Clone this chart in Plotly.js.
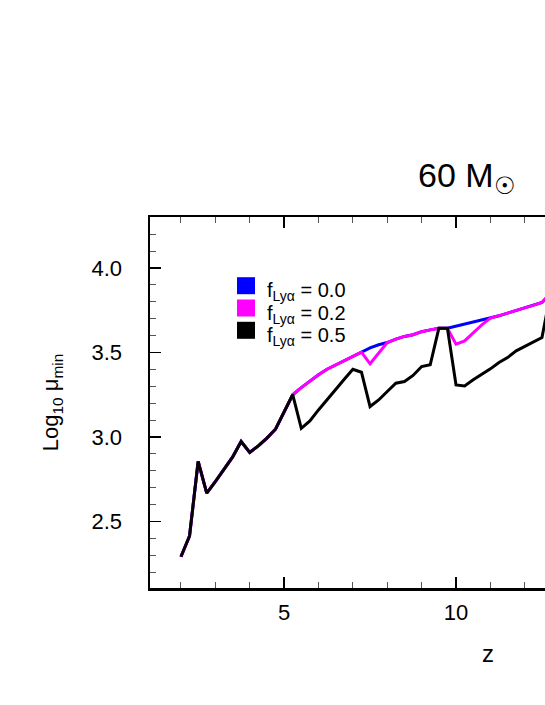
<!DOCTYPE html>
<html>
<head>
<meta charset="utf-8">
<script src="https://cdn.plot.ly/plotly-3.0.1.min.js"></script>
<style>
html, body { margin: 0; padding: 0; overflow: hidden; background: #fff; }
#chart { width: 846px; height: 705px; }
</style>
</head>
<body>
<div id="chart"></div>
<script>
// Redshift grid
var z = [2.0, 2.25, 2.5, 2.75, 3.0, 3.25, 3.5, 3.75, 4.0, 4.25, 4.5, 4.75,
         5.0, 5.25, 5.5, 5.75, 6.0, 6.25, 6.5, 6.75, 7.0, 7.25, 7.5, 7.75,
         8.0, 8.25, 8.5, 8.75, 9.0, 9.25, 9.5, 9.75, 10.0, 10.25, 10.5, 10.75,
         11.0, 11.25, 11.5, 11.75, 12.0, 12.25, 12.5, 12.75];

// Log10 mu_min for f_Lya = 0.0 (blue)
var logMuF00 = [2.291, 2.414, 2.855, 2.667, 2.736, 2.809, 2.880, 2.973, 2.908, 2.947, 2.993, 3.046,
                3.150, 3.250, 3.292, 3.332, 3.368, 3.401, 3.427, 3.453, 3.476, 3.502, 3.527, 3.546,
                3.559, 3.579, 3.595, 3.605, 3.623, 3.634, 3.643, 3.643, 3.655, 3.668, 3.681, 3.693,
                3.704, 3.717, 3.733, 3.749, 3.763, 3.779, 3.796, 3.852];

// Log10 mu_min for f_Lya = 0.2 (magenta)
var logMuF02 = [2.291, 2.414, 2.855, 2.667, 2.736, 2.809, 2.880, 2.973, 2.908, 2.947, 2.993, 3.046,
                3.150, 3.250, 3.292, 3.332, 3.368, 3.401, 3.427, 3.453, 3.476, 3.502, 3.433, 3.496,
                3.559, 3.579, 3.595, 3.605, 3.623, 3.634, 3.643, 3.643, 3.549, 3.569, 3.619, 3.664,
                3.704, 3.717, 3.733, 3.749, 3.763, 3.779, 3.796, 3.852];

// Log10 mu_min for f_Lya = 0.5 (black)
var logMuF05 = [2.291, 2.414, 2.855, 2.667, 2.736, 2.809, 2.880, 2.973, 2.908, 2.947, 2.993, 3.046,
                3.150, 3.250, 3.051, 3.095, 3.160, 3.223, 3.283, 3.342, 3.401, 3.383, 3.180, 3.219,
                3.269, 3.318, 3.328, 3.364, 3.417, 3.427, 3.643, 3.643, 3.308, 3.302, 3.338, 3.368,
                3.403, 3.441, 3.470, 3.510, 3.536, 3.561, 3.589, 3.852];

var seriesLabels = ["f<sub>Lyα</sub> = 0.0", "f<sub>Lyα</sub> = 0.2", "f<sub>Lyα</sub> = 0.5"];
var seriesColors = ["#0000ff", "#ff00ff", "#000000"];
var seriesValues = [logMuF00, logMuF02, logMuF05];

// tick labels visible in the (cropped) reference
var xTickVals = [5, 10];
var yTickVals = [2.5, 3.0, 3.5, 4.0];

var FONT = "Liberation Sans, Arial, Helvetica, sans-serif";

// plot area geometry (pixels) used to place the hand-made legend
var W = 846, H = 705, ML = 150, MR = 20, MT = 217, MB = 117;
var PW = W - ML - MR, PH = H - MT - MB;
function px(xp) { return (xp - ML) / PW; }
function py(yp) { return 1 - (yp - MT) / PH; }

var traces = [];
for (var i = 0; i < 3; i++) {
  traces.push({
    x: z, y: seriesValues[i], type: "scatter", mode: "lines",
    name: seriesLabels[i],
    line: {color: seriesColors[i], width: 3},
    showlegend: false, hoverinfo: "skip"
  });
}

// legend: coloured squares + labels
var shapes = [], annotations = [];
for (var j = 0; j < 3; j++) {
  var cy = 285.7 + j * 22.3;
  shapes.push({
    type: "rect", xref: "paper", yref: "paper",
    x0: px(237), x1: px(255), y0: py(cy + 8.5), y1: py(cy - 8.5),
    fillcolor: seriesColors[j], line: {width: 0}
  });
  annotations.push({
    xref: "paper", yref: "paper", x: px(265), y: py(cy + 6),
    xanchor: "left", yanchor: "middle", showarrow: false,
    text: seriesLabels[j],
    font: {family: FONT, size: 20, color: "#000"}
  });
}

var axisCommon = {
  showline: true, linecolor: "#000", linewidth: 2.5, mirror: "ticks",
  ticks: "inside", ticklen: 11, tickwidth: 1.5, tickcolor: "#000",
  showgrid: false, zeroline: false,
  tickfont: {family: FONT, size: 22, color: "#000"}
};

var layout = {
  width: W, height: H,
  margin: {l: ML, r: MR, t: MT, b: MB},
  paper_bgcolor: "#fff", plot_bgcolor: "#fff",
  font: {family: FONT, color: "#000"},
  showlegend: false,
  title: {
    text: "60 M<sub>☉</sub>",
    font: {family: FONT, size: 34, color: "#000"},
    xref: "container", x: 418 / W, xanchor: "left",
    yref: "container", y: 1 - 175 / H, yanchor: "middle"
  },
  xaxis: Object.assign({}, axisCommon, {
    range: [1.1, 20.76], tickmode: "array", tickvals: xTickVals,
    minor: {tickmode: "linear", tick0: 0, dtick: 1, ticks: "inside", ticklen: 6, tickwidth: 1, tickcolor: "#555"},
    ticklabelstandoff: 3,
    title: {text: "z", font: {family: FONT, size: 24, color: "#000"}, standoff: 22}
  }),
  yaxis: Object.assign({}, axisCommon, {
    range: [2.106, 4.302], tickmode: "array", tickvals: yTickVals, tickformat: ".1f",
    minor: {tickmode: "linear", tick0: 0, dtick: 0.1, ticks: "inside", ticklen: 6, tickwidth: 1, tickcolor: "#555"},
    ticklabelstandoff: 21,
    title: {text: "Log<sub>10</sub> μ<sub>min</sub>", font: {family: FONT, size: 22, color: "#000"}, standoff: 27}
  }),
  shapes: shapes,
  annotations: annotations
};

Plotly.newPlot("chart", traces, layout, {displayModeBar: false, staticPlot: true});
</script>
</body>
</html>
